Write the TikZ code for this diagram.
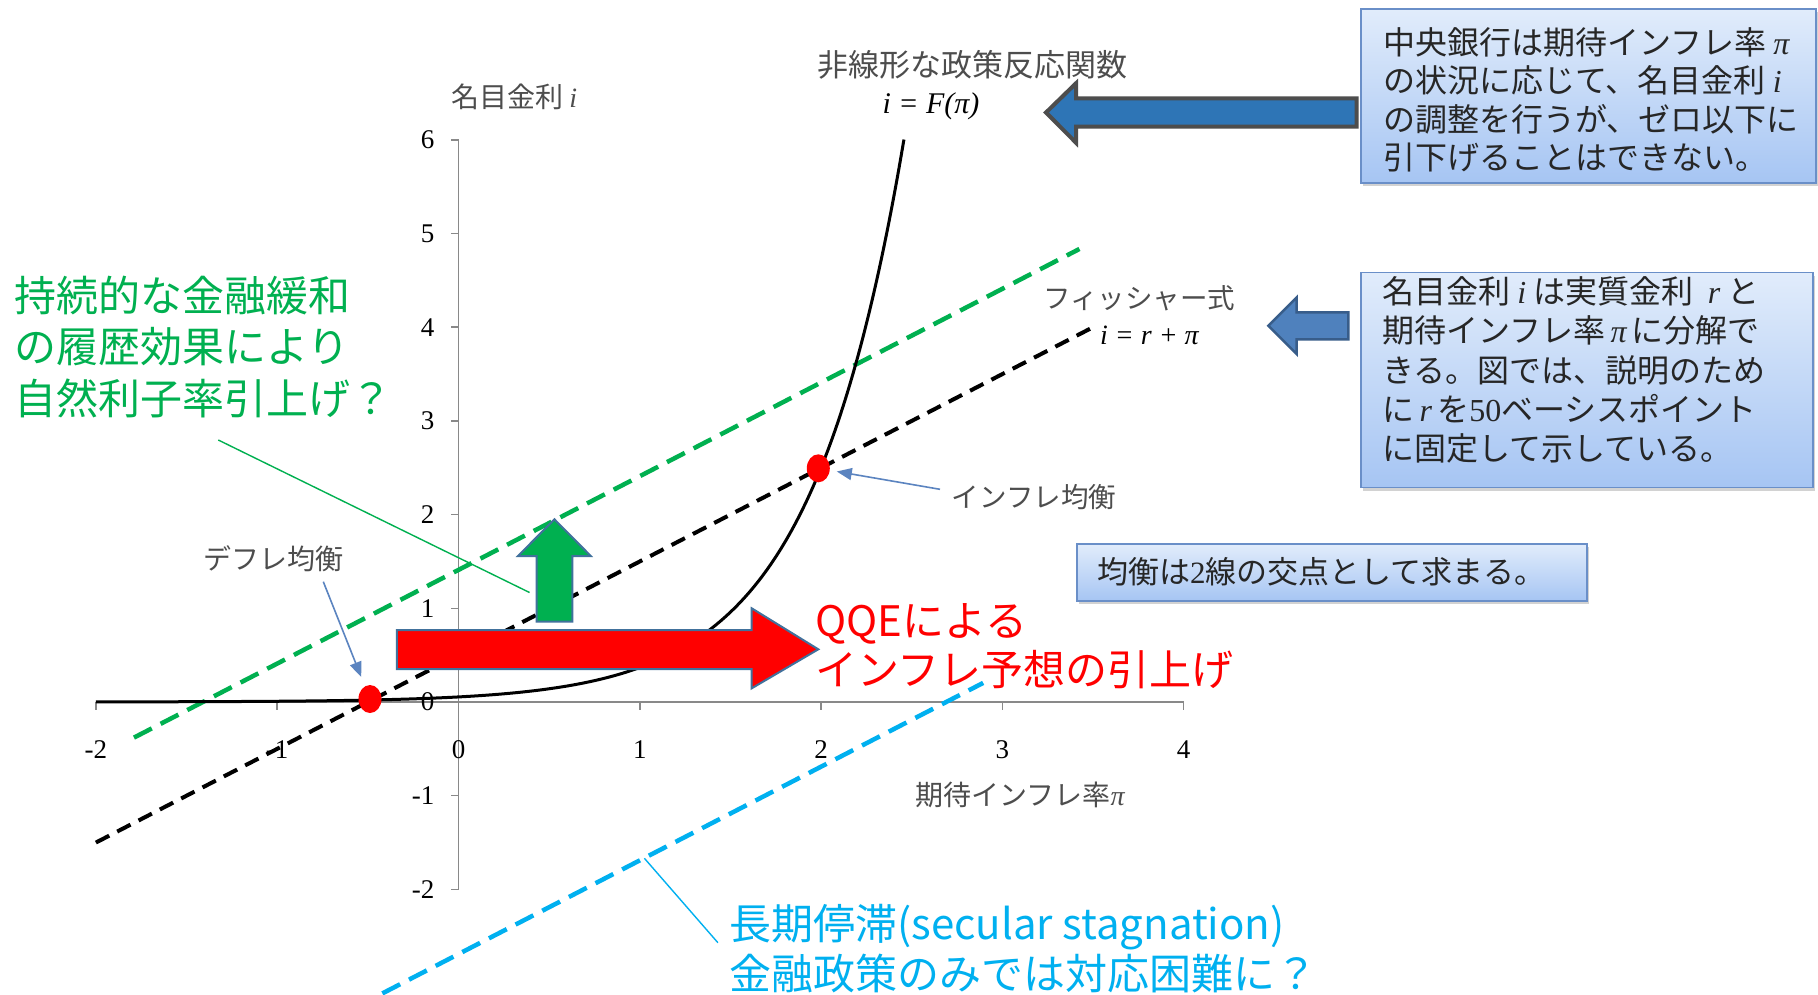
\RequirePackage{fix-cm}
\documentclass[tikz,border=0pt]{standalone}
\usepackage{fontspec}
\setmainfont{Noto Sans CJK JP}
\newfontfamily\tm{Liberation Serif}
\newcommand\mi[1]{{\tm\itshape #1}}
\usetikzlibrary{arrows.meta,shapes.geometric,shadows}
\definecolor{axgray}{HTML}{898989}
\definecolor{labgray}{HTML}{4D4D4D}
\definecolor{txtdark}{HTML}{262626}
\definecolor{boxtop}{HTML}{E1ECFB}
\definecolor{boxbot}{HTML}{A6C5F3}
\definecolor{boxline}{HTML}{6A8FC8}
\definecolor{fgreen}{HTML}{00B050}
\definecolor{fcyan}{HTML}{00B0F0}
\definecolor{bigblue}{HTML}{2E75B6}
\definecolor{bigblueline}{HTML}{4D4D4D}
\definecolor{smblue}{HTML}{4F81BD}
\definecolor{smblueline}{HTML}{385D8A}
\definecolor{arrline}{HTML}{41719C}
\definecolor{ptrblue}{HTML}{5B84C0}
\begin{document}
\begin{tikzpicture}[x=1pt,y=-1pt,
  ax/.style={draw=axgray,line width=1.5pt},
  ticklab/.style={font=\tm\fontsize{27}{32}\selectfont,inner sep=0pt,text=black},
  lab/.style={font=\fontsize{28}{34}\selectfont,inner sep=0pt,text=labgray},
  boxtxt/.style={font=\fontsize{32}{38.5}\selectfont,inner sep=0pt,text=txtdark,align=left},
  infobox/.style={draw=boxline,line width=1.5pt,top color=boxtop,bottom color=boxbot,inner sep=0pt,outer sep=0pt,
     drop shadow={shadow xshift=2pt,shadow yshift=-3pt,opacity=0.35}},
  bigtxt/.style={font=\fontsize{42}{50}\selectfont,inner sep=0pt,align=left},
  curveline/.style={black,line width=3pt},
  fisherdash/.style={black,line width=4pt,dash pattern=on 15pt off 9pt},
  greendash/.style={fgreen,line width=4.5pt,dash pattern=on 20pt off 10pt},
  cyandash/.style={fcyan,line width=4.5pt,dash pattern=on 20pt off 10pt},
  reddot/.style={ellipse,fill=red,draw=none,minimum width=23pt,minimum height=28pt,inner sep=0pt},
  ptr/.style={ptrblue,line width=1.6pt,-{Triangle[length=15pt,width=12pt]}},
  blockred/.style={fill=red,draw=arrline,line width=2pt,line join=miter},
  blockgreen/.style={fill=fgreen,draw=arrline,line width=2pt,line join=miter},
  blockblue/.style={fill=bigblue,draw=bigblueline,line width=4pt,line join=miter},
  blocksmall/.style={fill=smblue,draw=smblueline,line width=2.5pt,line join=miter},
  thinlead/.style={line width=1.4pt}
]
\useasboundingbox (0,0) rectangle (1818,994);
\fill[white] (0,0) rectangle (1818,994);

% ---------- chart in data coordinates ----------
\begin{scope}[shift={(458.5,702)},x=181.3pt,y=93.7pt]
  \draw[ax] (0,6) -- (0,-2);
  \draw[ax] (-2,0) -- (4,0);
  \foreach \v in {6,5,4,3,2,1,0,-1,-2}{
    \draw[ax] (0,\v) -- ++(-8pt,0);
    \node[ticklab,anchor=east] at ([xshift=-24pt]0,\v) {\v};
  }
  \foreach \u in {-2,-1,1,2,3,4}{
    \draw[ax] (\u,0) -- ++(0,-8pt);
  }
  \foreach \u in {-2,-1,0,1,2,3,4}{
    \node[ticklab] at ([yshift=-48pt]\u,0) {\u};
  }
  \draw[greendash] (-1.79,-0.38) -- (3.425,4.835);
  \draw[cyandash] (-0.42,-3.11) -- (2.894,0.204);
  \draw[fisherdash] (-2,-1.5) -- (3.52,4.02);
  \draw[curveline] plot[domain=-2:2.457,samples=160,smooth] (\x,{0.0542*exp(1.916*\x)});
\end{scope}

% ---------- axis titles and labels ----------
\node[lab,anchor=west] (ylab) at (451,97) {名目金利 \mi{i}};
\node[lab,font=\fontsize{31}{36}\selectfont] (flab) at (972,65) {非線形な政策反応関数};
\node[lab,text=black,font=\tm\itshape\fontsize{30}{36}\selectfont] (feq) at (931,106) {i = F(π)};
\node[lab,anchor=west,font=\fontsize{27.5}{34}\selectfont] (fish) at (1043,298) {フィッシャー式};
\node[lab,anchor=west,text=black,font=\tm\itshape\fontsize{28}{34}\selectfont] (fisheq) at (1100,335) {i = r + π};
\node[lab] (xlab) at (1020,795) {期待インフレ率\mi{π}};
\node[lab,anchor=west,font=\fontsize{27.5}{34}\selectfont] (infllab) at (951.7,496.7) {インフレ均衡};
\node[lab,anchor=west] (defllab) at (203.3,558.3) {デフレ均衡};

% ---------- equilibrium dots and pointers ----------
\node[reddot] (infl) at (818.3,468.3) {};
\node[reddot] (defl) at (370,699) {};
\coordinate (inflfrom) at (940,489.3);
\coordinate (deflfrom) at (323.3,581.7);
\draw[ptr,shorten >=7pt] (inflfrom) -- (infl);
\draw[ptr,shorten >=10pt] (deflfrom) -- (defl);

% ---------- lead lines ----------
\coordinate (gl1) at (218.3,440);
\coordinate (gl2) at (529.5,592.5);
\draw[thinlead,fgreen] (gl1) -- (gl2);
\coordinate (cl1) at (644.4,858.3);
\coordinate (cl2) at (717.9,942.7);
\draw[thinlead,fcyan] (cl1) -- (cl2);

% ---------- block arrows ----------
\draw[blockgreen] (536.5,621.7) -- (536.5,556) -- (518,556) -- (554.4,519.3) -- (590.8,556) -- (572.4,556) -- (572.4,621.7) -- cycle;
\draw[blockred] (396.9,630) -- (751.7,630) -- (751.7,608.3) -- (818.3,649.3) -- (751.7,688.3) -- (751.7,669) -- (396.9,669) -- cycle;
\draw[blockblue] (1356.7,98.3) -- (1076,98.3) -- (1076,83.3) -- (1046,112.5) -- (1076,142.7) -- (1076,126.7) -- (1356.7,126.7) -- cycle;
\draw[blocksmall] (1348.3,312.3) -- (1296.7,312.3) -- (1296.7,297.3) -- (1268.3,325.7) -- (1296.7,354) -- (1296.7,339.3) -- (1348.3,339.3) -- cycle;

% ---------- info boxes ----------
\node[infobox,minimum width=455pt,minimum height=174pt,anchor=north west] (box1) at (1361,9) {};
\node[boxtxt,anchor=west] (t1) at (1383,100) {中央銀行は期待インフレ率 \mi{π}\\の状況に応じて、名目金利 \mi{i}\\の調整を行うが、ゼロ以下に\\引下げることはできない。};
\node[infobox,minimum width=452pt,minimum height=215pt,anchor=north west] (box2) at (1361,272.5) {};
\node[boxtxt,anchor=west,font=\fontsize{32}{39.3}\selectfont] (t2) at (1382,370) {名目金利 \mi{i} は実質金利 \ \mi{r} と\\期待インフレ率\,\mi{π}\,に分解で\\きる。図では、説明のため\\に\,\mi{r}\,を{\tm 50}ベーシスポイント\\に固定して示している。};
\node[infobox,minimum width=510pt,minimum height=57pt,anchor=north west] (box3) at (1077,544) {};
\node[boxtxt,anchor=west,font=\fontsize{31}{36}\selectfont] (t3) at (1097,572) {均衡は{\tm 2}線の交点として求まる。};

% ---------- coloured annotations ----------
\node[bigtxt,text=fgreen,anchor=west,font=\fontsize{42}{51.5}\selectfont] (gtxt) at (14,347) {持続的な金融緩和\\の履歴効果により\\自然利子率引上げ？};
\node[bigtxt,text=red,anchor=west,font=\fontsize{42}{48.5}\selectfont] (rtxt) at (815,646) {QQEによる\\インフレ予想の引上げ};
\node[bigtxt,text=fcyan,anchor=west] (ctxt) at (729,949) {長期停滞(secular stagnation)\\金融政策のみでは対応困難に？};
\end{tikzpicture}
\end{document}
